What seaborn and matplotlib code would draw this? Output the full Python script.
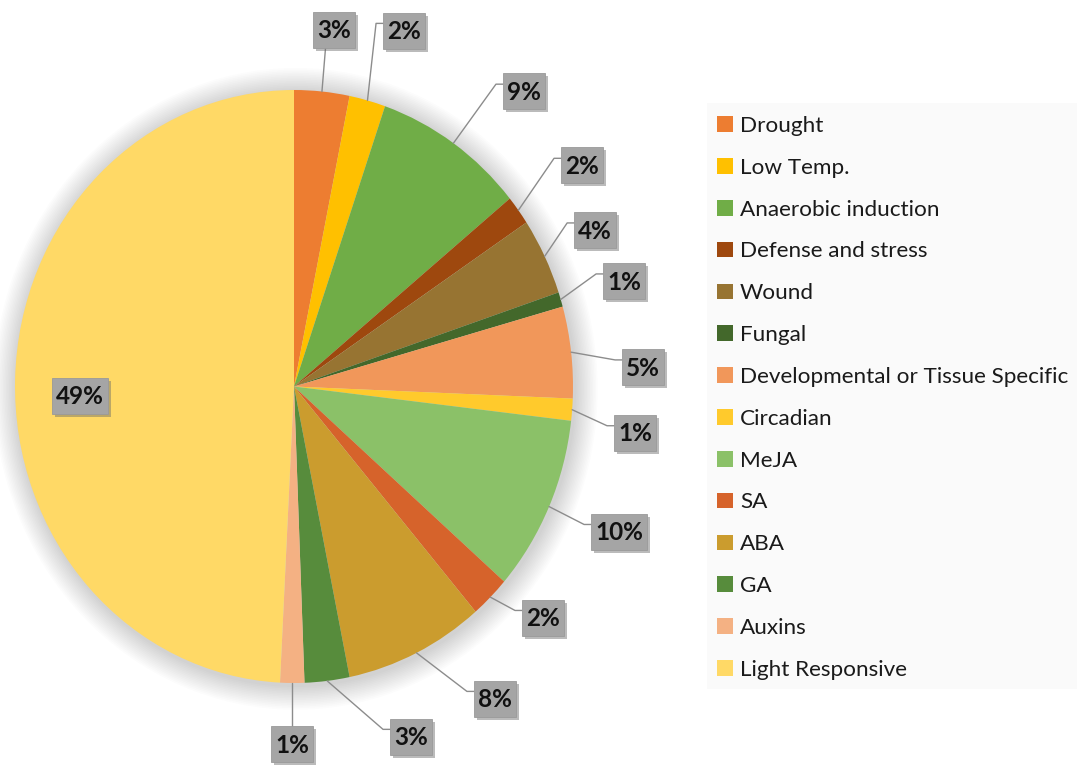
import numpy as np
import matplotlib
matplotlib.use("Agg")
import matplotlib.pyplot as plt
import matplotlib.transforms as mtransforms
from matplotlib.patches import Ellipse, Rectangle
import seaborn as sns

# Share of each element class (percent)
categories = ["Drought", "Low Temp.", "Anaerobic induction", "Defense and stress",
              "Wound", "Fungal", "Developmental or Tissue Specific", "Circadian",
              "MeJA", "SA", "ABA", "GA", "Auxins", "Light Responsive"]
shares = [3.2, 2.1, 8.8, 1.6, 4.2, 0.8, 5.0, 1.2, 9.6, 2.3, 8.1, 2.6, 1.4, 49.3]
colors = ["#ED7D31", "#FFC000", "#70AD47", "#9E480E", "#977432", "#43682B",
          "#F1975A", "#FFCA2C", "#8BC168", "#D6632B", "#CB9C2E", "#578C3C",
          "#F4B183", "#FFD966"]

# label box centres in pie units (x over the horizontal radius, y over the vertical one)
label_pos = [(0.143, 1.200), (0.394, 1.197), (0.824, 0.992), (1.032, 0.742),
             (1.079, 0.524), (1.183, 0.352), (1.251, 0.062), (1.222, -0.160),
             (1.165, -0.493), (0.892, -0.783), (0.720, -1.056), (0.419, -1.184),
             (-0.007, -1.210), (-0.767, -0.035)]
# where the leader line meets the box
leader_side = ["bottom", "left", "left", "left", "left", "left", "left", "left",
               "left", "left", "left", "left", "top", None]

sns.set_theme(style="white")
plt.rcParams['font.family'] = ['Lato', 'DejaVu Sans']

W, H = 1077, 770
fig = plt.figure(figsize=(W / 100, H / 100), dpi=100)
fig.patch.set_facecolor("white")

# legend background panel
fig.patches.append(Rectangle((707 / W, 1 - 689 / H), (W - 707) / W, (689 - 103) / H,
                             transform=fig.transFigure, fc="#fafafa", ec="none", zorder=0))

ax = fig.add_axes([15 / W, 87 / H, 558 / W, 593 / H])

# soft glow behind the pie
for k in range(1, 16):
    r = 1 + 0.0055 * k
    ax.add_patch(Ellipse((0.006, -0.008), 2 * r, 2 * r, fc="black", ec="none",
                         alpha=0.012, zorder=0, clip_on=False))

wedges, _ = ax.pie(shares, colors=colors, startangle=90, counterclock=False,
                   radius=1, wedgeprops=dict(linewidth=0))
for w in wedges:
    w.set_zorder(2)
ax.set_aspect('auto')
ax.set_xlim(-1, 1)
ax.set_ylim(-1, 1)
ax.axis('off')

total = sum(shares)
pct_text = [f"{round(100 * s / total)}%" for s in shares]

texts = []
for (x, y), txt in zip(label_pos, pct_text):
    t = ax.text(x, y, txt, ha='center', va='center', fontsize=17.5, fontweight='bold',
                color='#111111', clip_on=False, zorder=6)
    texts.append(t)

fig.canvas.draw()
renderer = fig.canvas.get_renderer()
inv = ax.transData.inverted()
ident = mtransforms.IdentityTransform()

# grey label boxes with a small drop shadow, sized in pixels
boxes = []
for t in texts:
    bb = t.get_window_extent(renderer)
    bw = bb.width + 8
    bh = 36
    cx = (bb.x0 + bb.x1) / 2
    cy = (bb.y0 + bb.y1) / 2 + 1
    x0, y0 = cx - bw / 2, cy - bh / 2
    ax.add_patch(Rectangle((x0 + 3, y0 - 3), bw, bh, transform=ident, fc='#6a6a6a',
                           ec='none', alpha=0.45, clip_on=False, zorder=4))
    ax.add_patch(Rectangle((x0, y0), bw, bh, transform=ident, fc='#a5a5a5',
                           ec='#9a9a9a', lw=0.6, clip_on=False, zorder=5))
    boxes.append((x0, y0, bw, bh))

for w, (x0, y0, bw, bh), side in zip(wedges, boxes, leader_side):
    if side is None:
        continue
    mid = np.deg2rad((w.theta1 + w.theta2) / 2)
    start = ax.transData.transform((np.cos(mid), np.sin(mid)))
    if side == "left":
        yy = y0 + bh - 0.3 * bh
        pts = [start, (x0 - 7, yy), (x0, yy)]
    elif side == "bottom":
        pts = [start, (x0 + 0.3 * bw, y0)]
    else:
        pts = [start, (start[0], y0 + bh)]
    pts = inv.transform(np.array(pts, dtype=float))
    ax.plot(pts[:, 0], pts[:, 1], color='#8c8c8c', lw=1, clip_on=False, zorder=3)

fig.legend(wedges, categories, loc='upper left', bbox_to_anchor=(717 / W, 1 - 116 / H),
           frameon=False, fontsize=16.2, handlelength=0.7, handleheight=0.7,
           handletextpad=0.32, labelspacing=0.97, borderpad=0, borderaxespad=0,
           labelcolor='#1a1a1a')

fig.savefig("out.png", dpi=100)
